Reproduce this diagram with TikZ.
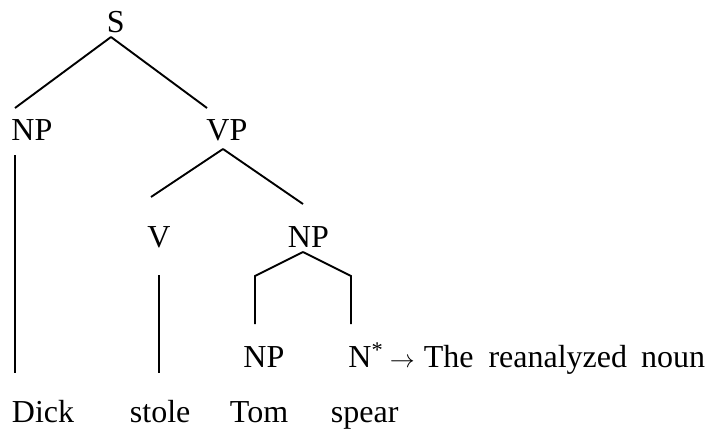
\documentclass[tikz,border=0pt]{standalone}
\usepackage{fontspec}
\setmainfont{Liberation Serif}
\usepackage{tikz}
\usetikzlibrary{positioning}

\begin{document}
\begin{tikzpicture}[x=1pt, y=-1pt, line width=1.9pt,
    every node/.style={inner sep=0pt, anchor=base west, font=\fontsize{32}{38}\selectfont}]
    \useasboundingbox (0,0) rectangle (714,428);
    % labels
    \node (s) at (106,33) {S};
    \node (np1) at (10.5,140) {NP};
    \node (vp) at (205.5,140) {VP};
    \node (v) at (146.5,247) {V};
    \node (np2) at (287,247) {NP};
    \node (np3) at (242.5,367) {NP};
    \node (nstar) at (347.5,367) {N\textsuperscript{*}};
    \node (note) at (389,367) {$\rightarrow$\hspace{9pt}The\hspace{15pt}reanalyzed\hspace{14pt}noun};
    % words
    \node (dick) at (11,422) {Dick};
    \node (stole) at (129,422) {stole};
    \node (tom) at (229,422) {Tom};
    \node (spear) at (330,422) {spear};
    % branches
    \draw ([shift={(5,4)}]s.base west) -- ([shift={(4.5,-32)}]np1.base west);
    \draw ([shift={(5,4)}]s.base west) -- ([shift={(1.5,-32)}]vp.base west);
    \draw ([shift={(4.5,15)}]np1.base west) -- ([shift={(4,-49)}]dick.base west);
    \draw ([shift={(17.5,9)}]vp.base west) -- ([shift={(4.5,-50)}]v.base west);
    \draw ([shift={(17.5,9)}]vp.base west) -- ([shift={(16,-43)}]np2.base west);
    \draw ([shift={(12.5,28)}]v.base west) -- ([shift={(30,-49)}]stole.base west);
    \draw ([shift={(12.5,-43)}]np3.base west) -- ++(0,-48) -- ([shift={(16,5)}]np2.base west);
    \draw ([shift={(3.5,-43)}]nstar.base west) -- ++(0,-48) -- ([shift={(16,5)}]np2.base west);
\end{tikzpicture}
\end{document}
